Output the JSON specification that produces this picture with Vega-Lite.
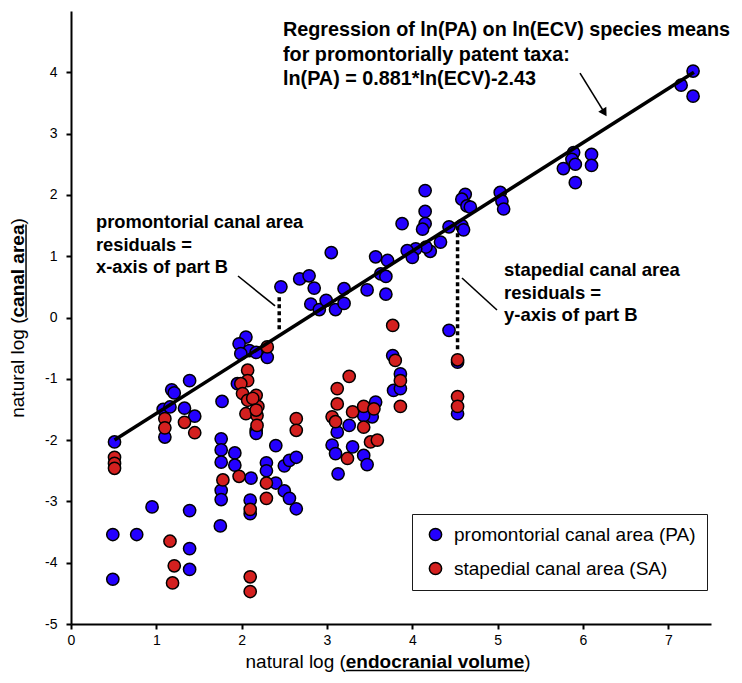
{
 "$schema": "https://vega.github.io/schema/vega-lite/v6.json",
 "width": 640, "height": 613,
 "autosize": {"type": "none"},
 "padding": {"left": 71, "top": 11, "right": 31, "bottom": 59},
 "background": "white",
 "config": {
  "font": "Liberation Sans",
  "view": {"stroke": null},
  "axis": {"domainColor": "black", "domainWidth": 2, "tickColor": "black", "tickWidth": 2, "tickSize": 5, "labelColor": "black", "labelFontSize": 14, "labelFont": "Liberation Sans", "grid": false, "title": null, "labelFlush": false}
 },
 "encoding": {
  "x": {"field": "x", "type": "quantitative", "scale": {"domain": [0, 7.5], "nice": false, "zero": false}, "axis": {"values": [0,1,2,3,4,5,6,7], "labelExpr": "'' + datum.value", "labelPadding": 4, "title": null}},
  "y": {"field": "y", "type": "quantitative", "scale": {"domain": [-5, 5], "nice": false, "zero": false}, "axis": {"values": [-5,-4,-3,-2,-1,0,1,2,3,4], "labelExpr": "'' + datum.value", "labelPadding": 9, "title": null}}
 },
 "layer": [
  {
   "data": {"values": [
    {"x":0.51,"y":-2.03,"s":"PA"},{"x":0.49,"y":-3.54,"s":"PA"},{"x":0.77,"y":-3.54,"s":"PA"},{"x":0.49,"y":-4.27,"s":"PA"},
    {"x":0.95,"y":-3.09,"s":"PA"},{"x":1.39,"y":-3.15,"s":"PA"},{"x":1.39,"y":-3.77,"s":"PA"},{"x":1.39,"y":-4.11,"s":"PA"},
    {"x":1.39,"y":-1.03,"s":"PA"},{"x":1.18,"y":-1.18,"s":"PA"},{"x":1.21,"y":-1.23,"s":"PA"},{"x":1.08,"y":-1.5,"s":"PA"},
    {"x":1.16,"y":-1.46,"s":"PA"},{"x":1.1,"y":-1.95,"s":"PA"},{"x":1.33,"y":-1.48,"s":"PA"},{"x":1.45,"y":-1.61,"s":"PA"},
    {"x":1.77,"y":-1.37,"s":"PA"},{"x":1.76,"y":-1.98,"s":"PA"},{"x":1.76,"y":-2.16,"s":"PA"},{"x":1.76,"y":-2.36,"s":"PA"},
    {"x":1.92,"y":-2.21,"s":"PA"},{"x":1.92,"y":-2.41,"s":"PA"},{"x":1.76,"y":-2.82,"s":"PA"},{"x":1.76,"y":-2.97,"s":"PA"},
    {"x":1.75,"y":-3.4,"s":"PA"},{"x":2.11,"y":-2.62,"s":"PA"},{"x":2.1,"y":-2.98,"s":"PA"},{"x":2.1,"y":-3.2,"s":"PA"},
    {"x":2.05,"y":-0.32,"s":"PA"},{"x":1.97,"y":-0.43,"s":"PA"},{"x":2.09,"y":-0.54,"s":"PA"},{"x":1.99,"y":-0.59,"s":"PA"},
    {"x":2.17,"y":-0.57,"s":"PA"},{"x":1.95,"y":-1.08,"s":"PA"},{"x":2.3,"y":-0.65,"s":"PA"},{"x":2.17,"y":-1.84,"s":"PA"},
    {"x":2.17,"y":-1.89,"s":"PA"},{"x":2.4,"y":-2.09,"s":"PA"},{"x":2.29,"y":-2.37,"s":"PA"},{"x":2.29,"y":-2.5,"s":"PA"},
    {"x":2.4,"y":-2.7,"s":"PA"},{"x":2.5,"y":-2.42,"s":"PA"},{"x":2.56,"y":-2.33,"s":"PA"},{"x":2.64,"y":-2.28,"s":"PA"},
    {"x":2.5,"y":-2.83,"s":"PA"},{"x":2.56,"y":-2.95,"s":"PA"},{"x":2.64,"y":-3.12,"s":"PA"},{"x":4.15,"y":2.07,"s":"PA"},
    {"x":4.15,"y":1.73,"s":"PA"},{"x":4.15,"y":1.53,"s":"PA"},{"x":4.12,"y":1.44,"s":"PA"},{"x":3.88,"y":1.53,"s":"PA"},
    {"x":4.43,"y":1.48,"s":"PA"},{"x":4.58,"y":1.5,"s":"PA"},{"x":4.6,"y":1.43,"s":"PA"},{"x":4.33,"y":1.23,"s":"PA"},
    {"x":4.21,"y":1.08,"s":"PA"},{"x":4.16,"y":1.15,"s":"PA"},{"x":4.04,"y":1.12,"s":"PA"},{"x":3.94,"y":1.09,"s":"PA"},
    {"x":4.0,"y":0.98,"s":"PA"},{"x":3.05,"y":1.06,"s":"PA"},{"x":3.57,"y":0.99,"s":"PA"},{"x":3.71,"y":0.93,"s":"PA"},
    {"x":3.63,"y":0.71,"s":"PA"},{"x":3.69,"y":0.67,"s":"PA"},{"x":3.47,"y":0.45,"s":"PA"},{"x":3.69,"y":0.38,"s":"PA"},
    {"x":3.2,"y":0.47,"s":"PA"},{"x":2.68,"y":0.63,"s":"PA"},{"x":2.79,"y":0.68,"s":"PA"},{"x":2.85,"y":0.48,"s":"PA"},
    {"x":2.81,"y":0.22,"s":"PA"},{"x":2.91,"y":0.13,"s":"PA"},{"x":2.99,"y":0.28,"s":"PA"},{"x":3.1,"y":0.13,"s":"PA"},
    {"x":3.2,"y":0.23,"s":"PA"},{"x":2.46,"y":0.5,"s":"PA"},{"x":4.43,"y":-0.21,"s":"PA"},{"x":3.77,"y":-0.62,"s":"PA"},
    {"x":3.86,"y":-0.92,"s":"PA"},{"x":3.78,"y":-1.19,"s":"PA"},{"x":3.86,"y":-1.16,"s":"PA"},{"x":3.57,"y":-1.38,"s":"PA"},
    {"x":3.53,"y":-1.62,"s":"PA"},{"x":3.43,"y":-1.6,"s":"PA"},{"x":3.26,"y":-1.76,"s":"PA"},{"x":3.12,"y":-1.87,"s":"PA"},
    {"x":3.06,"y":-2.08,"s":"PA"},{"x":3.1,"y":-2.22,"s":"PA"},{"x":3.3,"y":-2.11,"s":"PA"},{"x":3.43,"y":-2.25,"s":"PA"},
    {"x":3.13,"y":-2.55,"s":"PA"},{"x":3.47,"y":-2.4,"s":"PA"},
    {"x":4.62,"y":2.01,"s":"PA"},{"x":4.58,"y":1.93,"s":"PA"},{"x":4.64,"y":1.82,"s":"PA"},{"x":4.68,"y":1.8,"s":"PA"},
    {"x":5.03,"y":2.04,"s":"PA"},{"x":5.05,"y":1.9,"s":"PA"},{"x":5.07,"y":1.77,"s":"PA"},{"x":4.53,"y":-1.57,"s":"PA"},
    {"x":4.53,"y":-0.73,"s":"PA"},{"x":7.29,"y":4.02,"s":"PA"},{"x":7.15,"y":3.79,"s":"PA"},{"x":7.29,"y":3.61,"s":"PA"},
    {"x":5.89,"y":2.69,"s":"PA"},{"x":5.87,"y":2.58,"s":"PA"},{"x":5.91,"y":2.5,"s":"PA"},{"x":5.77,"y":2.43,"s":"PA"},
    {"x":5.91,"y":2.2,"s":"PA"},{"x":6.1,"y":2.66,"s":"PA"},{"x":6.1,"y":2.48,"s":"PA"},
    {"x":0.51,"y":-2.28,"s":"SA"},{"x":0.51,"y":-2.38,"s":"SA"},{"x":0.51,"y":-2.46,"s":"SA"},{"x":1.1,"y":-1.65,"s":"SA"},
    {"x":1.1,"y":-1.8,"s":"SA"},{"x":1.33,"y":-1.71,"s":"SA"},{"x":1.45,"y":-1.88,"s":"SA"},{"x":1.78,"y":-2.65,"s":"SA"},
    {"x":1.97,"y":-2.59,"s":"SA"},{"x":1.16,"y":-3.65,"s":"SA"},{"x":1.21,"y":-4.05,"s":"SA"},{"x":1.19,"y":-4.33,"s":"SA"},
    {"x":2.1,"y":-3.13,"s":"SA"},{"x":2.1,"y":-4.23,"s":"SA"},{"x":2.1,"y":-4.47,"s":"SA"},{"x":2.07,"y":-0.86,"s":"SA"},
    {"x":2.07,"y":-1.03,"s":"SA"},{"x":1.99,"y":-1.08,"s":"SA"},{"x":2.01,"y":-1.24,"s":"SA"},{"x":2.07,"y":-1.35,"s":"SA"},
    {"x":2.17,"y":-1.27,"s":"SA"},{"x":2.19,"y":-1.45,"s":"SA"},{"x":2.05,"y":-1.57,"s":"SA"},{"x":2.18,"y":-1.6,"s":"SA"},
    {"x":2.18,"y":-1.76,"s":"SA"},{"x":2.13,"y":-1.32,"s":"SA"},{"x":2.17,"y":-1.51,"s":"SA"},{"x":2.3,"y":-0.48,"s":"SA"},
    {"x":2.64,"y":-1.65,"s":"SA"},{"x":2.64,"y":-1.84,"s":"SA"},{"x":2.29,"y":-2.7,"s":"SA"},{"x":2.29,"y":-2.95,"s":"SA"},
    {"x":3.77,"y":-0.13,"s":"SA"},{"x":3.8,"y":-0.7,"s":"SA"},{"x":3.86,"y":-1.03,"s":"SA"},{"x":3.86,"y":-1.45,"s":"SA"},
    {"x":3.26,"y":-0.96,"s":"SA"},{"x":3.12,"y":-1.16,"s":"SA"},{"x":3.12,"y":-1.41,"s":"SA"},{"x":3.3,"y":-1.54,"s":"SA"},
    {"x":3.43,"y":-1.45,"s":"SA"},{"x":3.55,"y":-1.49,"s":"SA"},{"x":3.43,"y":-1.79,"s":"SA"},{"x":3.06,"y":-1.62,"s":"SA"},
    {"x":3.1,"y":-1.7,"s":"SA"},{"x":3.51,"y":-2.03,"s":"SA"},{"x":3.59,"y":-2.0,"s":"SA"},{"x":3.24,"y":-2.3,"s":"SA"},
    {"x":4.53,"y":-0.69,"s":"SA"},{"x":4.53,"y":-1.29,"s":"SA"},{"x":4.53,"y":-1.45,"s":"SA"}
   ]},
   "mark": {"type": "point", "shape": "circle", "filled": true, "size": 150, "stroke": "black", "strokeWidth": 1.5, "opacity": 1},
   "encoding": {
    "color": {"field": "s", "type": "nominal", "scale": {"domain": ["PA", "SA"], "range": ["#2400ff", "#d4201f"]},
     "legend": {"title": null, "orient": "none", "legendX": 341, "legendY": 503, "direction": "vertical", "strokeColor": "#1a1a1a", "fillColor": "white", "padding": 11, "rowPadding": 14, "symbolType": "circle", "symbolSize": 150, "symbolStrokeColor": "black", "symbolStrokeWidth": 1.5, "symbolOpacity": 1, "labelFontSize": 19, "labelColor": "black", "labelOffset": 9, "symbolOffset": 3, "labelLimit": 500,
      "labelExpr": "datum.label == 'PA' ? 'promontorial canal area (PA)' : 'stapedial canal area (SA)'"}}
   }
  },
  {
   "data": {"values": [{"x": 0.51, "y": -2.0, "x2": 7.3, "y2": 4.0}]},
   "mark": {"type": "rule", "color": "black", "strokeWidth": 3.5},
   "encoding": {"x2": {"field": "x2"}, "y2": {"field": "y2"}}
  },
  {
   "data": {"values": [{"x": 2.44, "y": 0.33, "y2": -0.22}, {"x": 4.53, "y": 1.49, "y2": -0.55}]},
   "mark": {"type": "rule", "color": "black", "strokeWidth": 3.5, "strokeDash": [4, 3]},
   "encoding": {"y2": {"field": "y2"}}
  },
  {
   "data": {"values": [{"x": 1.957, "y": 0.677, "x2": 2.391, "y2": 0.188}, {"x": 4.582, "y": 0.644, "x2": 4.992, "y2": 0.122}, {"x": 5.965, "y": 3.987, "x2": 6.251, "y2": 3.341}]},
   "mark": {"type": "rule", "color": "black", "strokeWidth": 1.6},
   "encoding": {"x2": {"field": "x2"}, "y2": {"field": "y2"}}
  },
  {
   "data": {"values": [{"x": 6.251, "y": 3.341}]},
   "mark": {"type": "point", "shape": "triangle-up", "filled": true, "color": "black", "size": 90, "angle": 148.5, "opacity": 1},
   "encoding": {}
  },
  {
   "data": {"values": [
    {"x": 2.484, "y": 4.69, "t": "Regression of ln(PA) on ln(ECV) species means"},
    {"x": 2.484, "y": 4.282, "t": "for promontorially patent taxa:"},
    {"x": 2.484, "y": 3.891, "t": "ln(PA) = 0.881*ln(ECV)-2.43"}
   ]},
   "mark": {"type": "text", "align": "left", "baseline": "middle", "fontWeight": "bold", "fontSize": 19.8, "color": "black"},
   "encoding": {"text": {"field": "t"}}
  },
  {
   "data": {"values": [
    {"x": 0.293, "y": 1.546, "t": "promontorial canal area"},
    {"x": 0.293, "y": 1.166, "t": "residuals ="},
    {"x": 0.293, "y": 0.803, "t": "x-axis of part B"}
   ]},
   "mark": {"type": "text", "align": "left", "baseline": "middle", "fontWeight": "bold", "fontSize": 18.3, "color": "black"},
   "encoding": {"text": {"field": "t"}}
  },
  {
   "data": {"values": [
    {"x": 5.074, "y": 0.775, "t": "stapedial canal area"},
    {"x": 5.074, "y": 0.395, "t": "residuals ="},
    {"x": 5.074, "y": 0.041, "t": "y-axis of part B"}
   ]},
   "mark": {"type": "text", "align": "left", "baseline": "middle", "fontWeight": "bold", "fontSize": 18.5, "color": "black"},
   "encoding": {"text": {"field": "t"}}
  },
  {
   "data": {"values": [{"x": 2.045, "y": -5.718, "t": "natural log ("}, {"x": 5.311, "y": -5.718, "t": ")"}]},
   "mark": {"type": "text", "align": "left", "baseline": "alphabetic", "fontSize": 19, "color": "black"},
   "encoding": {"text": {"field": "t"}}
  },
  {
   "data": {"values": [{"x": 3.22, "y": -5.718, "t": "endocranial volume"}]},
   "mark": {"type": "text", "align": "left", "baseline": "alphabetic", "fontSize": 19, "fontWeight": "bold", "color": "black"},
   "encoding": {"text": {"field": "t"}}
  },
  {
   "data": {"values": [{"x": -0.551, "y": -1.636, "t": "natural log ("}, {"x": -0.551, "y": 1.516, "t": ")"}]},
   "mark": {"type": "text", "align": "left", "baseline": "alphabetic", "fontSize": 19, "angle": 270, "color": "black"},
   "encoding": {"text": {"field": "t"}}
  },
  {
   "data": {"values": [{"x": -0.551, "y": 0.0, "t": "canal area"}]},
   "mark": {"type": "text", "align": "left", "baseline": "alphabetic", "fontSize": 19, "fontWeight": "bold", "angle": 270, "color": "black"},
   "encoding": {"text": {"field": "t"}}
  },
  {
   "data": {"values": [{"x": 3.22, "y": -5.759, "x2": 5.311, "y2": -5.759}, {"x": -0.527, "y": 0.0, "x2": -0.527, "y2": 1.516}]},
   "mark": {"type": "rule", "color": "black", "strokeWidth": 1.5},
   "encoding": {"x2": {"field": "x2"}, "y2": {"field": "y2"}}
  }
 ]
}
